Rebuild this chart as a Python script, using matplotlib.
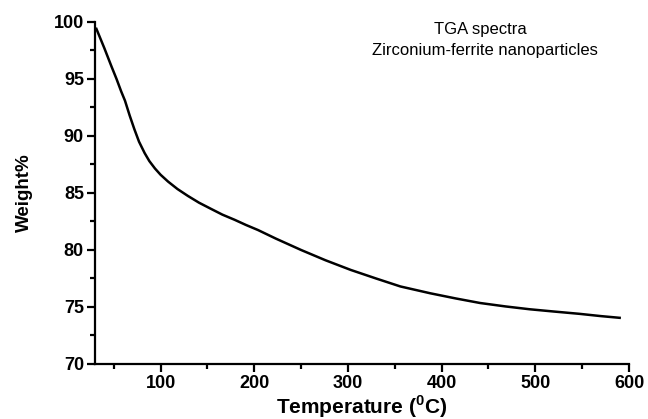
import matplotlib
matplotlib.use("Agg")
import matplotlib.pyplot as plt
from matplotlib.ticker import MultipleLocator

# TGA curve
temperature = [31.5, 34, 40, 47.6, 53, 58, 62, 67, 72, 77, 83, 88, 94, 100,
               108, 118, 129, 141, 154, 166, 179, 191, 204, 223, 250, 276,
               303, 330, 356, 388, 415, 441, 468, 494, 520, 547, 570, 590]
weight = [99.4, 98.9, 97.7, 96.1, 95.0, 93.9, 93.1, 91.8, 90.6, 89.5, 88.5,
          87.8, 87.15, 86.6, 86.0, 85.35, 84.75, 84.15, 83.6, 83.1, 82.65,
          82.2, 81.75, 81.0, 80.0, 79.1, 78.25, 77.5, 76.8, 76.2, 75.75,
          75.35, 75.05, 74.8, 74.6, 74.4, 74.2, 74.05]

plt.rcParams["font.family"] = ["Liberation Sans", "DejaVu Sans"]
plt.rcParams["mathtext.fontset"] = "custom"
plt.rcParams["mathtext.rm"] = "Liberation Sans:bold"
plt.rcParams["mathtext.bf"] = "Liberation Sans:bold"

fig = plt.figure(figsize=(6.48, 4.19), dpi=100, facecolor="white")
ax = fig.add_axes([0.1466, 0.1313, 0.8241, 0.8162])

ax.plot(temperature, weight, color="black", lw=1.8)

ax.set_xlim(30, 600)
ax.set_ylim(70, 100)
ax.xaxis.set_major_locator(MultipleLocator(100))
ax.xaxis.set_minor_locator(MultipleLocator(50))
ax.yaxis.set_major_locator(MultipleLocator(5))
ax.yaxis.set_minor_locator(MultipleLocator(2.5))

for side in ("top", "right"):
    ax.spines[side].set_visible(False)
for side in ("left", "bottom"):
    ax.spines[side].set_linewidth(1.6)

ax.tick_params(which="major", direction="out", length=6, width=1.6,
               labelsize=13, pad=2)
ax.tick_params(which="minor", direction="out", length=3.5, width=1.6)
for lab in ax.get_xticklabels() + ax.get_yticklabels():
    lab.set_fontweight("bold")

ax.set_xlabel(r"Temperature ($^{0}$C)", fontsize=15, fontweight="bold",
              labelpad=1)
ax.set_ylabel("Weight%", fontsize=13.5, fontweight="bold", labelpad=15)

ax.text(0.721, 0.977, "TGA spectra", transform=ax.transAxes,
        ha="center", va="center", fontsize=12)
ax.text(0.730, 0.918, "Zirconium-ferrite nanoparticles", transform=ax.transAxes,
        ha="center", va="center", fontsize=12)

fig.savefig("out.png", dpi=100, facecolor="white")
